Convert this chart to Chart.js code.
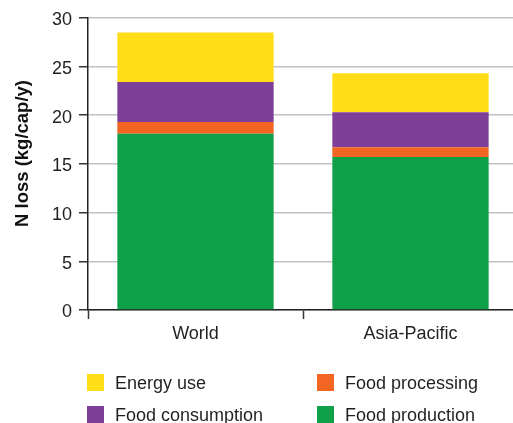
<!DOCTYPE html>
<html>
<head>
<meta charset="utf-8">
<script src="https://cdn.jsdelivr.net/npm/chart.js@4"></script>
<style>
  html, body { margin: 0; padding: 0; background: #fff; overflow: hidden; width: 513px; height: 423px; }
  #wrap { position: absolute; left: 0; top: 0; width: 518px; height: 350px; }
  #legend { position: absolute; left: 0; top: 0; width: 513px; height: 423px; pointer-events: none;
            font-family: "Liberation Sans", Arial, Helvetica, sans-serif; font-size: 18px; color: #231f20; }
  .item { position: absolute; height: 20px; line-height: 20px; white-space: nowrap; }
  .sw { position: absolute; left: 0; top: 1px; width: 17px; height: 17px; }
  .tx { position: absolute; left: 28px; top: 0; }
</style>
</head>
<body>
<div id="wrap"><canvas id="c" width="518" height="350"></canvas></div>
<div id="legend"></div>
<script>
const categories = ["World", "Asia-Pacific"];
const foodProduction = [18.1, 15.7];
const foodProcessing = [1.2, 1.0];
const foodConsumption = [4.1, 3.6];
const energyUse = [5.1, 4.0];
const yTicks = [0, 5, 10, 15, 20, 25, 30];
const yTitle = "N loss (kg/cap/y)";

const seriesNames = ["Food production", "Food processing", "Food consumption", "Energy use"];
const seriesColors = ["#10a04a", "#f26522", "#7d3f98", "#ffdd17"];
const seriesValues = [foodProduction, foodProcessing, foodConsumption, energyUse];

const FONT = "'Liberation Sans', Arial, Helvetica, sans-serif";

const datasets = seriesNames.map((n, i) => ({
  label: n,
  data: seriesValues[i],
  backgroundColor: seriesColors[i],
  borderWidth: 0,
  categoryPercentage: 1.0,
  barPercentage: 0.727
}));

// y-axis title drawn as canvas text at the reference position
const yTitlePlugin = {
  id: "yTitlePlugin",
  afterDraw(chart) {
    const ctx = chart.ctx;
    ctx.save();
    ctx.translate(23, 153.5);
    ctx.rotate(-Math.PI / 2);
    ctx.textAlign = "center";
    ctx.textBaseline = "middle";
    ctx.fillStyle = "#111";
    ctx.font = "bold 18.5px " + FONT;
    ctx.fillText(yTitle, 0, 0);
    ctx.restore();
  }
};

new Chart(document.getElementById("c"), {
  type: "bar",
  data: { labels: categories, datasets },
  plugins: [yTitlePlugin],
  options: {
    responsive: false,
    animation: false,
    devicePixelRatio: 1,
    layout: { padding: { top: 14.5, right: 0, bottom: 0, left: 0 } },
    plugins: { legend: { display: false }, tooltip: { enabled: false } },
    scales: {
      x: {
        stacked: true,
        afterFit: s => { s.height = 40; },
        grid: { drawOnChartArea: false, drawTicks: true, tickLength: 9, tickColor: "#333", tickWidth: 1.5, offset: true },
        border: { color: "#222", width: 1.5 },
        ticks: { color: "#231f20", font: { family: FONT, size: 18 }, padding: 4 }
      },
      y: {
        stacked: true,
        min: 0, max: 30,
        afterFit: s => { s.width = 88; },
        afterBuildTicks: s => { s.ticks = yTicks.map(v => ({ value: v })); },
        grid: { color: "#c2c2c6", lineWidth: 1.5, tickLength: 9, tickColor: "#333", tickWidth: 1.5 },
        border: { color: "#222", width: 1.5 },
        ticks: { color: "#231f20", font: { family: FONT, size: 18 }, padding: 7, labelOffset: 2.5 },
        title: { display: false }
      }
    }
  }
});

// HTML legend built from the series arrays (order as in the reference)
const legendOrder = [3, 1, 2, 0];
const legendPos = [[87, 373], [317, 373], [87, 405], [317, 405]];
const leg = document.getElementById("legend");
legendOrder.forEach((si, k) => {
  const d = document.createElement("div");
  d.className = "item";
  d.style.left = legendPos[k][0] + "px";
  d.style.top = legendPos[k][1] + "px";
  d.innerHTML = '<span class="sw" style="background:' + seriesColors[si] + '"></span><span class="tx">' + seriesNames[si] + '</span>';
  leg.appendChild(d);
});
</script>
</body>
</html>
